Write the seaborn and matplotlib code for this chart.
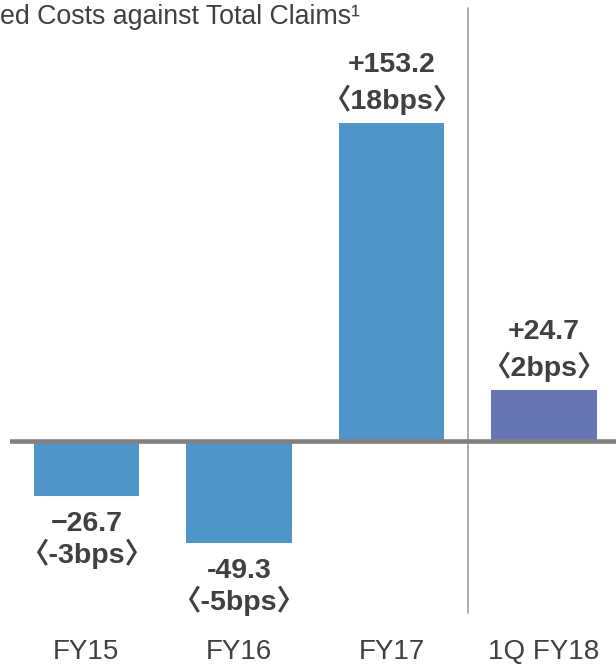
import matplotlib
matplotlib.use("Agg")
import matplotlib.pyplot as plt
import seaborn as sns
import pandas as pd

# Data
categories = ["FY15", "FY16", "FY17", "1Q FY18"]
values = [-26.7, -49.3, 153.2, 24.7]
value_labels = ["\u221226.7", "-49.3", "+153.2", "+24.7"]
bps_labels = ["\u3008-3bps\u3009", "\u3008-5bps\u3009", "\u300818bps\u3009", "\u30082bps\u3009"]
bar_colors = ["#4E95C9", "#4E95C9", "#4E95C9", "#6674B4"]

sns.set_theme(style="white")
plt.rcParams["font.family"] = ["Liberation Sans", "Noto Sans CJK JP", "DejaVu Sans"]

TEXT = "#404040"
W, H, DPI = 616, 664, 100
fig = plt.figure(figsize=(W / DPI, H / DPI), dpi=DPI)

# axes: left edge at 10px, spans to the right edge; top at 0px, bottom at 620px
ax = fig.add_axes([10 / W, 44 / H, 606 / W, 620 / H])

df = pd.DataFrame({"category": categories, "value": values})
sns.barplot(data=df, x="category", y="value", hue="category",
            palette=bar_colors, legend=False, width=0.69,
            saturation=1, ax=ax, zorder=2)
for p in ax.patches:
    p.set_edgecolor("none")

px_per_unit = 318 / 153.2
zero_px = 441
ax.set_ylim(-(620 - zero_px) / px_per_unit, zero_px / px_per_unit)
ax.set_xlim(-0.5, -0.5 + 606 / 152.6)

# baseline and divider
ax.axhline(0, color="#808080", lw=3.3, zorder=3)
ax.axvline(2.5, ymin=1 - 613 / 620, ymax=1 - 8 / 620, color="#a0a0a0", lw=1.2, zorder=1)

# value labels
for i, (v, lab, bps) in enumerate(zip(values, value_labels, bps_labels)):
    if v >= 0:
        off1, off2 = 36.7, 10.0
    else:
        off1, off2 = -25.2, -48.2
    ax.annotate(lab, (i, v), xytext=(0, off1), textcoords="offset points",
                ha="center", va="baseline", fontsize=20.5, fontweight="bold",
                color=TEXT)
    ax.annotate(bps, (i, v), xytext=(0, off2), textcoords="offset points",
                ha="center", va="baseline", fontsize=20.5, fontweight="bold",
                color=TEXT)

ax.set_xlabel("")
ax.set_ylabel("")
ax.set_yticks([])
ax.tick_params(axis="x", length=0, pad=14, labelsize=20, labelcolor=TEXT)
for s in ax.spines.values():
    s.set_visible(False)

fig.text(0, 1 - 24 / H, "ed Costs against Total Claims\u00b9", ha="left",
         va="baseline", fontsize=19.3, color=TEXT)

fig.savefig("out.png", dpi=DPI)
